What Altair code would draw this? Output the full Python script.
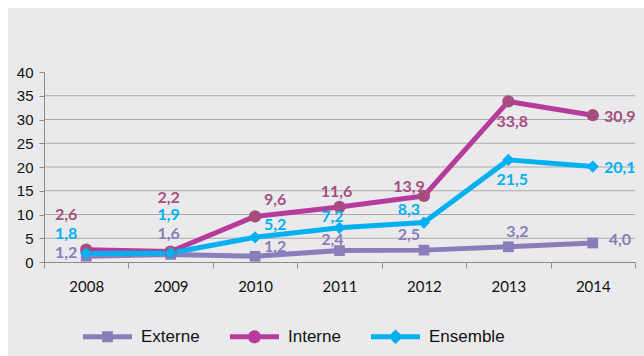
import altair as alt
import pandas as pd

# ---- data ----
years = ["2008", "2009", "2010", "2011", "2012", "2013", "2014"]
externe = [1.2, 1.6, 1.2, 2.4, 2.5, 3.2, 4.0]
interne = [2.6, 2.2, 9.6, 11.6, 13.9, 33.8, 30.9]
ensemble = [1.8, 1.9, 5.2, 7.2, 8.3, 21.5, 20.1]
series_names = ["Externe", "Interne", "Ensemble"]
y_ticks = [0, 5, 10, 15, 20, 25, 30, 35, 40]
grid_values = [5, 10, 15, 20, 25, 30, 35]

rows = []
for name, vals in zip(series_names, [externe, interne, ensemble]):
    for yr, v in zip(years, vals):
        rows.append({"year": yr, "series": name, "value": v,
                     "label": f"{v:.1f}".replace(".", ",")})
df = pd.DataFrame(rows)
grid_df = pd.DataFrame({"value": grid_values})

# ---- styles ----
line_colors = {"Externe": "#8B7DB9", "Interne": "#B63C9C", "Ensemble": "#00B0F0"}
marker_colors = {"Externe": "#8B7DB9", "Interne": "#A64D80", "Ensemble": "#00B0F0"}
label_colors = {"Externe": "#8B7DB9", "Interne": "#A5507F", "Ensemble": "#00B0F0"}
marker_shapes = {"Externe": "square", "Interne": "circle", "Ensemble": "diamond"}
marker_sizes = {"Externe": 115, "Interne": 150, "Ensemble": 150}
offsets = {
    "Interne": [(-20, -35), (-2, -54), (20, -16), (-3, -15), (-15, -9), (4, 21), (27, 2)],
    "Ensemble": [(-20, -19), (-2, -38), (20, -12), (-7, -11), (-15, -13), (4, 20), (27, 1)],
    "Externe": [(-20, -3), (-2, -20), (20, -9), (-7, -11), (-15, -15), (9, -15), (27, -3)],
}

legend_paths = {
    "Externe": "M-1,-0.1H-0.22V0.1H-1Z M0.22,-0.1H1V0.1H0.22Z M-0.22,-0.22H0.22V0.22H-0.22Z",
    "Interne": "M-1,-0.1H-0.26V0.1H-1Z M0.26,-0.1H1V0.1H0.26Z M-0.27,0A0.27,0.27 0 1,1 0.27,0A0.27,0.27 0 1,1 -0.27,0Z",
    "Ensemble": "M-1,-0.1H-0.2V0.1H-1Z M0.2,-0.1H1V0.1H0.2Z M0,-0.3L0.3,0L0,0.3L-0.3,0Z",
}
shape_expr = ("datum.value === 'Externe' ? '%s' : datum.value === 'Interne' ? '%s' : '%s'"
              % (legend_paths["Externe"], legend_paths["Interne"], legend_paths["Ensemble"]))

x_enc = alt.X("year:N", sort=years,
              scale=alt.Scale(type="band", domain=years, paddingInner=0, paddingOuter=0),
              axis=alt.Axis(title=None, labelAngle=0, tickBand="extent", grid=False,
                            domainColor="#8C8C8C", tickColor="#8C8C8C", tickSize=6,
                            labelPadding=11, labelFont="Lato", labelFontSize=15,
                            labelColor="#111111", zindex=1))
y_scale = alt.Scale(domain=[0, 40], nice=False, zero=True)
y_enc = alt.Y("value:Q", scale=y_scale,
              axis=alt.Axis(title=None, values=y_ticks, grid=False,
                            domainColor="#8C8C8C", tickColor="#8C8C8C", tickSize=5,
                            labelPadding=6, labelFont="Liberation Sans", labelFontSize=15,
                            labelColor="#111111", zindex=1))

bg = alt.Chart(alt.Data(values=[{}])).mark_rect(color="#EAEAEC").encode(
    x=alt.value(-36), x2=alt.value(600), y=alt.value(-64), y2=alt.value(284))

grid = alt.Chart(grid_df).mark_rule(color="#A9A9A9", strokeWidth=1).encode(
    y=y_enc, x=alt.value(0), x2=alt.value(591))

# invisible filled layer that carries the legend
legend_layer = alt.Chart(df).mark_point(filled=True, size=0, opacity=0).encode(
    x=x_enc, y=y_enc,
    color=alt.Color("series:N", sort=series_names,
                    scale=alt.Scale(domain=series_names,
                                    range=[line_colors[s] for s in series_names]),
                    legend=alt.Legend(
                        title=None, orient="none", legendX=39, legendY=240,
                        direction="horizontal", columns=3, columnPadding=30,
                        padding=0, labelOffset=9, labelFont="Liberation Sans",
                        labelFontSize=17, labelColor="#111111", symbolSize=2401,
                        symbolType=alt.ExprRef(expr=shape_expr),
                        symbolStrokeWidth=0, symbolOpacity=1)),
)

layers = [bg, grid, legend_layer]
for name in series_names:
    layers.append(
        alt.Chart(df).mark_line(strokeWidth=5, strokeCap="round", strokeJoin="round",
                                color=line_colors[name])
        .encode(x=x_enc, y=y_enc)
        .transform_filter(alt.datum.series == name)
    )
for name in series_names:
    layers.append(
        alt.Chart(df).mark_point(shape=marker_shapes[name], filled=True, opacity=1,
                                 size=marker_sizes[name], color=marker_colors[name])
        .encode(x=x_enc, y=y_enc)
        .transform_filter(alt.datum.series == name)
    )
for name in series_names:
    for i, yr in enumerate(years):
        dx, dy = offsets[name][i]
        layers.append(
            alt.Chart(df).mark_text(font="Lato", fontWeight="bold", fontSize=16,
                                    color=label_colors[name], dx=dx, dy=dy,
                                    align="center", baseline="middle")
            .encode(x=x_enc, y=y_enc, text="label:N")
            .transform_filter((alt.datum.series == name) & (alt.datum.year == yr))
        )

chart = alt.layer(*layers).properties(
    width=591, height=190,
    autosize=alt.AutoSizeParams(type="none"),
    padding={"left": 44, "top": 72, "right": 9, "bottom": 94},
    background="white",
).configure_view(stroke=None)

chart.save("out.html", embed_options={"renderer": "svg", "actions": False})
